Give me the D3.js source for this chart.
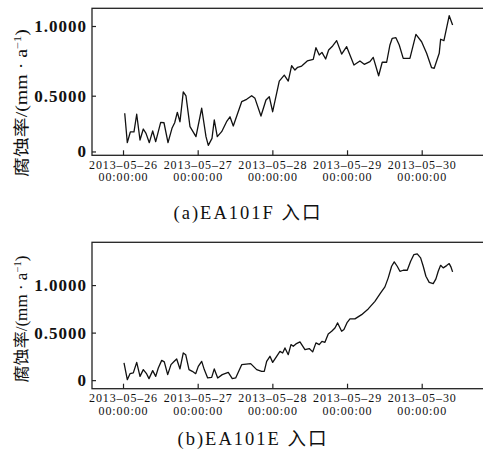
<!DOCTYPE html>
<html>
<head>
<meta charset="utf-8">
<script src="https://cdn.jsdelivr.net/npm/d3@7"></script>
<style>
body{margin:0;background:#fff}
svg text{font-family:"Liberation Serif","DejaVu Serif",serif;fill:#111}
</style>
</head>
<body>
<svg id="chart" width="483" height="456"></svg>
<script>
// hours after 2013-05-26 00:00:00 and corrosion rate (mm/a)
var hoursF = [0.55,1.38,2.35,3.53,4.40,5.46,6.52,7.39,8.45,9.54,10.51,12.11,13.17,14.46,15.74,16.61,17.45,18.31,19.37,20.24,21.53,23.45,25.29,26.67,27.41,28.60,29.33,30.30,31.71,33.4,34.38,35.44,38.14,39.74,41.35,42.41,44.34,45.95,47.01,48.10,50.22,51.83,53.11,54.20,55.26,56.13,57.42,59.22,61.14,62.01,63.07,63.94,65.13,66.09,67.38,68.66,70.27,71.88,74.22,76.15,77.53,79.36,80.42,82.16,83.31,84.73,85.79,86.53,87.71,88.78,90.06,92.21,94.14,95.97,97.58,99.18,100.02,101.63,102.08,103.14,104.84,105.93];
var rateF = [0.374,0.163,0.240,0.240,0.367,0.182,0.261,0.230,0.163,0.247,0.170,0.309,0.306,0.163,0.266,0.306,0.381,0.313,0.527,0.498,0.278,0.206,0.410,0.206,0.144,0.194,0.326,0.206,0.242,0.318,0.349,0.283,0.457,0.474,0.500,0.481,0.354,0.469,0.493,0.385,0.605,0.648,0.605,0.715,0.684,0.704,0.713,0.749,0.761,0.844,0.792,0.811,0.763,0.828,0.857,0.895,0.799,0.852,0.720,0.749,0.725,0.744,0.775,0.643,0.740,0.740,0.864,0.912,0.916,0.864,0.768,0.768,0.940,0.887,0.804,0.701,0.697,0.804,0.905,0.895,1.074,1.007];

var hoursE = [0.32,1.38,2.25,3.31,4.40,5.46,6.52,7.61,8.35,9.54,10.51,11.34,12.43,13.27,14.36,15.42,16.48,17.25,18.31,19.37,20.15,21.21,22.27,23.36,24.19,25.29,26.12,27.21,28.50,29.33,30.43,31.90,33.83,35.12,36.21,38.14,41.03,42.96,44.56,45.40,46.17,47.23,48.10,49.38,50.44,51.31,52.05,53.11,53.98,54.72,55.58,56.87,58.48,59.86,60.95,62.01,63.07,63.94,64.90,65.96,67.06,68.12,68.98,70.27,71.01,72.07,72.94,74.54,76.69,78.81,80.97,82.80,84.18,85.24,86.33,87.17,88.13,89.00,90.06,91.35,92.44,93.50,94.56,95.65,96.49,97.35,98.41,99.70,100.57,101.31,102.08,102.91,104.01,104.84,105.38,105.93];
var rateE = [0.181,0.005,0.068,0.076,0.187,0.040,0.111,0.065,0.016,0.100,0.040,0.128,0.208,0.192,0.058,0.163,0.198,0.223,0.118,0.286,0.268,0.111,0.093,0.068,0.145,0.198,0.111,0.023,0.029,0.118,0.023,0.058,0.082,0.016,0.023,0.163,0.174,0.111,0.093,0.093,0.198,0.251,0.187,0.251,0.303,0.286,0.339,0.268,0.374,0.356,0.381,0.402,0.321,0.332,0.297,0.392,0.374,0.408,0.398,0.486,0.514,0.549,0.602,0.514,0.532,0.608,0.644,0.644,0.689,0.749,0.829,0.918,0.981,1.076,1.198,1.244,1.198,1.145,1.156,1.156,1.251,1.321,1.328,1.286,1.198,1.093,1.029,1.016,1.065,1.145,1.208,1.181,1.205,1.226,1.192,1.139];

var dayTicks = ["2013-05-26","2013-05-27","2013-05-28","2013-05-29","2013-05-30"];
// in (a) the "0" label sits a little above the true zero, as in the original
var yTicksF = [0.1, 0.5, 1.0];
var yTicksE = [0, 0.5, 1.0];
var yLabels = ["0","0.5000","1.0000"];
var captions = ["(a)EA101F 入口", "(b)EA101E 入口"];

var parseDay = d3.timeParse("%Y-%m-%d");
var t0 = parseDay("2013-05-26");
function toTime(h){ return new Date(t0.getTime() + h*3600e3); }

var svg = d3.select("#chart");
svg.append("rect").attr("width",483).attr("height",456).attr("fill","#fff");

var x = d3.scaleTime()
    .domain([new Date(2013,4,25,14,2), new Date(2013,4,30,21,57)])
    .range([92, 490]);

function drawPanel(p){
    var y = d3.scaleLinear().domain(p.yDomain).range([p.bottom, p.top]);
    var g = svg.append("g");

    // frame (right side runs off the picture)
    g.append("rect")
        .attr("x", 92).attr("y", p.top)
        .attr("width", 400).attr("height", p.bottom - p.top)
        .attr("fill","none").attr("stroke","#222").attr("stroke-width",1.3);

    var xAxis = d3.axisBottom(x)
        .tickValues(dayTicks.map(parseDay))
        .tickSize(-5)
        .tickFormat("");
    var xg = g.append("g").attr("transform","translate(0,"+p.bottom+")").call(xAxis);
    xg.select(".domain").remove();
    xg.selectAll(".tick line").attr("stroke","#222").attr("stroke-width",1.2);
    xg.selectAll(".tick text").remove();
    xg.selectAll(".tick").each(function(d){
        var t = d3.select(this);
        t.append("text").attr("text-anchor","middle").attr("y",13.5)
            .style("font-size","12px").style("letter-spacing","0.9px")
            .text(d3.timeFormat("%Y–%m–%d")(d));
        t.append("text").attr("text-anchor","middle").attr("y",26)
            .style("font-size","12px").style("letter-spacing","0.9px")
            .text(d3.timeFormat("%H:%M:%S")(d));
    });

    var yAxis = d3.axisLeft(y)
        .tickValues(p.yTicks)
        .tickFormat(function(d,i){ return yLabels[i]; })
        .tickSize(-4).tickPadding(5);
    var yg = g.append("g").attr("transform","translate(92,0)").call(yAxis);
    yg.select(".domain").remove();
    yg.selectAll(".tick line").attr("stroke","#222").attr("stroke-width",1.2);
    yg.selectAll(".tick text")
        .style("font-size","17px").style("font-weight","bold")
        .style("letter-spacing","1px");

    var line = d3.line()
        .x(function(d){ return x(toTime(d[0])); })
        .y(function(d){ return y(d[1]); });
    g.append("path")
        .datum(d3.zip(p.hours, p.rate))
        .attr("d", line)
        .attr("fill","none").attr("stroke","#111").attr("stroke-width",1.3)
        .attr("stroke-linejoin","round");

    // y label, stretched along its length like the original
    var yl = g.append("text")
        .attr("text-anchor","middle")
        .style("font-size","16px")
        .style("font-family","'Liberation Serif','Noto Sans CJK SC',serif");
    yl.append("tspan").text("腐蚀率/(mm · a");
    yl.append("tspan").attr("dy",-6).style("font-size","10px").text("−1");
    yl.append("tspan").attr("dy",6).text(")");
    var k = p.labelLen / yl.node().getComputedTextLength();
    yl.attr("transform","translate(27,"+p.labelMid+") rotate(-90) scale("+k+",1)");

    svg.append("text")
        .attr("x", p.capX).attr("y", p.capY)
        .attr("text-anchor","middle")
        .style("font-size","18.5px").style("letter-spacing","2px")
        .style("font-family","'Liberation Serif','Noto Sans CJK SC',serif")
        .text(p.caption);
}

drawPanel({hours:hoursF, rate:rateF, yDomain:[0.0725, 1.127], top:8.3, bottom:155.3,
    yTicks:yTicksF, labelMid:103, labelLen:148, caption:captions[0], capX:248, capY:219});
drawPanel({hours:hoursE, rate:rateE, yDomain:[-0.09, 1.45], top:242.3, bottom:388.7,
    yTicks:yTicksE, labelMid:319, labelLen:127, caption:captions[1], capX:253, capY:445});
</script>
</body>
</html>
